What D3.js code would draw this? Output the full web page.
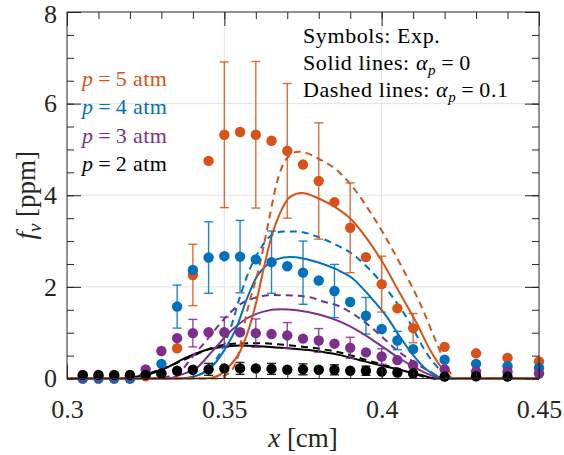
<!DOCTYPE html>
<html>
<head>
<meta charset="utf-8">
<script src="https://cdn.jsdelivr.net/npm/d3@7"></script>
<style>
  body { margin: 0; background: #fff; }
  text { font-family: "Liberation Serif", "Times New Roman", serif; }
</style>
</head>
<body>
<div id="chart"></div>
<script>
// Experimental x positions (cm)
const expX = [0.305, 0.31, 0.315, 0.32, 0.325, 0.33, 0.335, 0.34, 0.345, 0.35, 0.355, 0.36, 0.365,
  0.37, 0.375, 0.38, 0.385, 0.39, 0.395, 0.40, 0.405, 0.41, 0.42, 0.43, 0.44, 0.45];

// Experimental soot volume fraction (ppm)
const exp5 = [0, 0, 0, 0, 0.05, 0.1, 0.66, 2.26, 4.75, 5.32, 5.38, 5.32, 5.19,
  4.97, 4.67, 4.31, 3.85, 3.29, 2.65, 2.06, 1.53, 1.10, 0.69, 0.55, 0.45, 0.37];
const exp4 = [0, 0, 0, 0, 0.1, 0.32, 1.57, 2.37, 2.64, 2.67, 2.66, 2.60, 2.54,
  2.45, 2.31, 2.14, 1.91, 1.67, 1.37, 1.08, 0.83, 0.64, 0.41, 0.32, 0.27, 0.23];
const exp3 = [0.05, 0.05, 0.05, 0.06, 0.20, 0.60, 0.88, 0.99, 1.01, 1.01, 1.01, 0.99, 0.97,
  0.94, 0.87, 0.83, 0.76, 0.67, 0.57, 0.48, 0.40, 0.29, 0.20, 0.15, 0.15, 0.11];
const exp2 = [0.08, 0.08, 0.08, 0.08, 0.08, 0.11, 0.17, 0.19, 0.20, 0.22, 0.22, 0.22, 0.21,
  0.19, 0.20, 0.19, 0.19, 0.17, 0.17, 0.15, 0.13, 0.11, 0.04, 0.05, 0.04, null];

// Error bar half-widths (null = no bar)
const err5 = [null, null, null, null, null, null, null, 0.67, null, 1.59, null, 1.60, null,
  1.47, null, 1.27, null, 0.98, null, 0.61, null, 0.32, null, null, null, null];
const err4 = [null, null, null, null, null, null, 0.47, null, 0.78, null, 0.79, null, 0.68,
  null, 0.69, null, 0.58, null, 0.40, null, 0.20, null, null, null, null, null];
const err3 = [null, null, null, null, null, null, null, 0.30, null, 0.33, null, 0.31, null,
  0.28, null, 0.26, null, 0.23, null, 0.17, null, null, null, null, null, null];
const err2 = [null, null, null, null, null, null, null, null, 0.13, null, 0.13, null, 0.12,
  null, 0.12, null, 0.11, null, 0.10, null, null, null, null, null, null, null];

// Model curves, alpha_p = 0 (solid) and alpha_p = 0.1 (dashed)
const solid5X = [0.30, 0.344, 0.348, 0.351, 0.355, 0.358, 0.3603, 0.3624, 0.365, 0.3677, 0.371, 0.3745,
  0.38, 0.385, 0.3905, 0.395, 0.40, 0.4058, 0.4111, 0.4154, 0.4196, 0.423, 0.45];
const solid5Y = [0, 0, 0.06, 0.23, 0.59, 1.13, 1.71, 2.37, 3.10, 3.61, 3.97, 4.05,
  3.93, 3.75, 3.46, 3.08, 2.57, 1.86, 1.21, 0.62, 0.19, 0, 0];
const dash5X = [0.30, 0.347, 0.351, 0.354, 0.357, 0.3613, 0.364, 0.3666, 0.3698, 0.3735, 0.3762,
  0.3804, 0.3857, 0.3915, 0.3963, 0.4005, 0.4069, 0.4122, 0.4175, 0.4207, 0.4235, 0.45];
const dash5Y = [0, 0, 0.1, 0.4, 1.4, 2.5, 3.4, 4.25, 4.8, 4.95, 4.92,
  4.78, 4.55, 4.12, 3.64, 3.17, 2.37, 1.64, 0.77, 0.26, 0, 0];
const solid4X = [0.30, 0.336, 0.34, 0.345, 0.35, 0.354, 0.357, 0.3603, 0.3635, 0.3666, 0.3709, 0.3751,
  0.3804, 0.3857, 0.3905, 0.3963, 0.4016, 0.4058, 0.41, 0.4143, 0.418, 0.42, 0.45];
const solid4Y = [0, 0, 0.04, 0.19, 0.62, 1.13, 1.71, 2.22, 2.48, 2.60, 2.65, 2.62,
  2.52, 2.38, 2.20, 1.79, 1.35, 0.91, 0.51, 0.19, 0.04, 0, 0];
const dash4X = [0.30, 0.337, 0.342, 0.346, 0.349, 0.3518, 0.355, 0.358, 0.3613, 0.3645, 0.3687, 0.373,
  0.3794, 0.3857, 0.39, 0.3963, 0.4026, 0.409, 0.4143, 0.4185, 0.4215, 0.45];
const dash4Y = [0, 0, 0.08, 0.3, 0.6, 1.06, 1.79, 2.37, 2.81, 3.10, 3.21, 3.21,
  3.10, 2.91, 2.75, 2.37, 1.86, 1.21, 0.55, 0.19, 0, 0];
const solid3X = [0.30, 0.332, 0.336, 0.341, 0.3465, 0.3518, 0.3571, 0.3624, 0.3677, 0.373,
  0.3804, 0.3868, 0.3931, 0.3995, 0.4048, 0.41, 0.4154, 0.419, 0.45];
const solid3Y = [0, 0, 0.08, 0.22, 0.62, 1.02, 1.31, 1.46, 1.51, 1.49,
  1.39, 1.24, 1.02, 0.73, 0.48, 0.26, 0.08, 0, 0];
const dash3X = [0.30, 0.329, 0.333, 0.337, 0.339, 0.3444, 0.3497, 0.354, 0.3592, 0.3656, 0.3719,
  0.378, 0.3804, 0.3868, 0.3931, 0.3995, 0.4048, 0.41, 0.4154, 0.419, 0.421, 0.45];
const dash3Y = [0, 0, 0.06, 0.22, 0.40, 0.84, 1.28, 1.57, 1.75, 1.82, 1.81,
  1.76, 1.70, 1.57, 1.31, 0.95, 0.62, 0.37, 0.15, 0.02, 0, 0];
const solid2X = [0.30, 0.316, 0.3253, 0.3317, 0.338, 0.3423, 0.3486, 0.355, 0.3624, 0.3698,
  0.378, 0.3868, 0.3931, 0.3995, 0.4058, 0.4122, 0.4175, 0.45];
const solid2Y = [0, 0, 0.08, 0.24, 0.46, 0.58, 0.68, 0.72, 0.70, 0.66,
  0.61, 0.51, 0.40, 0.29, 0.19, 0.08, 0, 0];
const dash2X = [0.30, 0.314, 0.322, 0.3296, 0.3359, 0.3412, 0.3465, 0.3528, 0.3613, 0.3698,
  0.378, 0.3878, 0.3953, 0.4026, 0.41, 0.4164, 0.45];
const dash2Y = [0, 0, 0.05, 0.19, 0.37, 0.53, 0.68, 0.76, 0.77, 0.73,
  0.67, 0.55, 0.40, 0.26, 0.11, 0, 0];

const xTicks = [0.3, 0.35, 0.4, 0.45];
const yTicks = [0, 2, 4, 6, 8];

const series = [
  { label: "5", color: "#D95319", exp: exp5, err: err5, sx: solid5X, sy: solid5Y, dx: dash5X, dy: dash5Y },
  { label: "4", color: "#0072BD", exp: exp4, err: err4, sx: solid4X, sy: solid4Y, dx: dash4X, dy: dash4Y },
  { label: "3", color: "#7E2F8E", exp: exp3, err: err3, sx: solid3X, sy: solid3Y, dx: dash3X, dy: dash3Y },
  { label: "2", color: "#000000", exp: exp2, err: err2, sx: solid2X, sy: solid2Y, dx: dash2X, dy: dash2Y }
];

const W = 564, H = 455;
const margin = { top: 12, right: 25, bottom: 76.5, left: 67 };
const width = W - margin.left - margin.right;
const height = H - margin.top - margin.bottom;

const svg = d3.select("#chart").append("svg")
  .attr("width", W)
  .attr("height", H);

const g = svg.append("g")
  .attr("transform", `translate(${margin.left},${margin.top})`);

const x = d3.scaleLinear().domain([0.3, 0.45]).range([0, width]);
const y = d3.scaleLinear().domain([0, 8]).range([height, 0]);

// Grid
g.append("g").selectAll("line")
  .data(xTicks.slice(1, -1))
  .enter().append("line")
  .attr("x1", d => x(d)).attr("x2", d => x(d))
  .attr("y1", 0).attr("y2", height)
  .attr("stroke", "#e3e3e3").attr("stroke-width", 1);
g.append("g").selectAll("line")
  .data(yTicks.slice(1, -1))
  .enter().append("line")
  .attr("y1", d => y(d)).attr("y2", d => y(d))
  .attr("x1", 0).attr("x2", width)
  .attr("stroke", "#e3e3e3").attr("stroke-width", 1);

// Model lines
const plot = g.append("g");
const lineGen = d3.line().x(d => x(d[0])).y(d => y(d[1])).curve(d3.curveMonotoneX);

series.slice().reverse().forEach(s => {
  plot.append("path")
    .datum(s.sx.map((v, i) => [v, s.sy[i]]))
    .attr("fill", "none")
    .attr("stroke", s.color)
    .attr("stroke-width", 2)
    .attr("d", lineGen);
  plot.append("path")
    .datum(s.dx.map((v, i) => [v, s.dy[i]]))
    .attr("fill", "none")
    .attr("stroke", s.color)
    .attr("stroke-width", 2)
    .attr("stroke-dasharray", "7,5")
    .attr("d", lineGen);
});

// Experimental points with error bars
series.forEach(s => {
  const pts = expX.map((v, i) => ({ x: v, y: s.exp[i], e: s.err[i] })).filter(d => d.y !== null);
  const bars = pts.filter(d => d.e !== null);
  const eb = plot.append("g")
    .attr("stroke", s.color)
    .attr("stroke-width", 1.4)
    .attr("stroke-opacity", 0.85);
  eb.selectAll(".v").data(bars).enter().append("line")
    .attr("x1", d => x(d.x)).attr("x2", d => x(d.x))
    .attr("y1", d => y(d.y - d.e)).attr("y2", d => y(d.y + d.e));
  eb.selectAll(".t").data(bars).enter().append("line")
    .attr("x1", d => x(d.x) - 4.5).attr("x2", d => x(d.x) + 4.5)
    .attr("y1", d => y(d.y + d.e)).attr("y2", d => y(d.y + d.e));
  eb.selectAll(".b").data(bars).enter().append("line")
    .attr("x1", d => x(d.x) - 4.5).attr("x2", d => x(d.x) + 4.5)
    .attr("y1", d => y(d.y - d.e)).attr("y2", d => y(d.y - d.e));
  plot.append("g").selectAll("circle")
    .data(pts)
    .enter().append("circle")
    .attr("cx", d => x(d.x))
    .attr("cy", d => y(d.y))
    .attr("r", 5.2)
    .attr("fill", s.color);
});

// Axes: major/minor ticks pointing inward on all four sides
const axisColor = "#262626";
const xMinor = d3.range(0.3, 0.4501, 0.01).map(v => +v.toFixed(2));
const yMinor = d3.range(0, 8.001, 0.5);

function styleAxis(sel) {
  sel.select(".domain").remove();
  sel.selectAll("line").attr("stroke", axisColor);
  sel.selectAll("text").attr("fill", axisColor).style("font-size", "26px")
    .style("font-family", "'Liberation Serif', serif");
}

g.append("g").attr("transform", `translate(0,${height})`)
  .call(d3.axisBottom(x).tickValues(xMinor).tickSize(-7).tickFormat(""))
  .call(styleAxis);
g.append("g").attr("transform", `translate(0,${height})`)
  .call(d3.axisBottom(x).tickValues(xTicks).tickSize(-14).tickPadding(21).tickFormat(d3.format("")))
  .call(styleAxis);
g.append("g")
  .call(d3.axisTop(x).tickValues(xMinor).tickSize(-7).tickFormat(""))
  .call(styleAxis);
g.append("g")
  .call(d3.axisTop(x).tickValues(xTicks).tickSize(-14).tickFormat(""))
  .call(styleAxis);
g.append("g")
  .call(d3.axisLeft(y).tickValues(yMinor).tickSize(-7).tickFormat(""))
  .call(styleAxis);
const yAxisG = g.append("g")
  .call(d3.axisLeft(y).tickValues(yTicks).tickSize(-14).tickPadding(10).tickFormat(d3.format("d")))
  .call(styleAxis);
// keep the top label inside the page
yAxisG.selectAll("text").filter(d => d === 8).attr("dy", "0.4em");
g.append("g").attr("transform", `translate(${width},0)`)
  .call(d3.axisRight(y).tickValues(yMinor).tickSize(-7).tickFormat(""))
  .call(styleAxis);
g.append("g").attr("transform", `translate(${width},0)`)
  .call(d3.axisRight(y).tickValues(yTicks).tickSize(-14).tickFormat(""))
  .call(styleAxis);

g.append("rect")
  .attr("width", width).attr("height", height)
  .attr("fill", "none").attr("stroke", axisColor).attr("stroke-width", 1);

// Axis labels
const xl = svg.append("text")
  .attr("x", margin.left + width / 2).attr("y", 447)
  .attr("text-anchor", "middle").attr("fill", axisColor)
  .style("font-size", "27px");
xl.append("tspan").style("font-style", "italic").text("x");
xl.append("tspan").text(" [cm]");

const yl = svg.append("text")
  .attr("transform", `translate(35,${margin.top + height / 2}) rotate(-90)`)
  .attr("text-anchor", "middle").attr("fill", axisColor)
  .style("font-size", "27px");
yl.append("tspan").style("font-style", "italic").text("f");
yl.append("tspan").style("font-style", "italic").style("font-size", "19px").attr("dy", 6).text("v");
yl.append("tspan").attr("dy", -6).text(" [ppm]");

// Pressure legend
series.forEach((s, i) => {
  const t = svg.append("text")
    .attr("x", 82).attr("y", 86 + i * 28.3)
    .attr("fill", s.color)
    .style("font-size", "22px")
    .style("letter-spacing", "0.4px");
  t.append("tspan").style("font-style", "italic").text("p");
  t.append("tspan").text("\u2009=\u2009" + s.label + " atm");
});

// Annotation
const notes = svg.append("g").attr("fill", "#000")
  .style("font-size", "22px").style("letter-spacing", "0.6px");
notes.append("text").attr("x", 303).attr("y", 43).text("Symbols: Exp.");
const n2 = notes.append("text").attr("x", 303).attr("y", 70);
n2.append("tspan").text("Solid lines: ");
n2.append("tspan").style("font-style", "italic").text("α");
n2.append("tspan").style("font-style", "italic").style("font-size", "15px").attr("dy", 5).text("p");
n2.append("tspan").attr("dy", -5).text("\u2009=\u20090");
const n3 = notes.append("text").attr("x", 303).attr("y", 97);
n3.append("tspan").text("Dashed lines: ");
n3.append("tspan").style("font-style", "italic").text("α");
n3.append("tspan").style("font-style", "italic").style("font-size", "15px").attr("dy", 5).text("p");
n3.append("tspan").attr("dy", -5).text("\u2009=\u20090.1");
</script>
</body>
</html>
